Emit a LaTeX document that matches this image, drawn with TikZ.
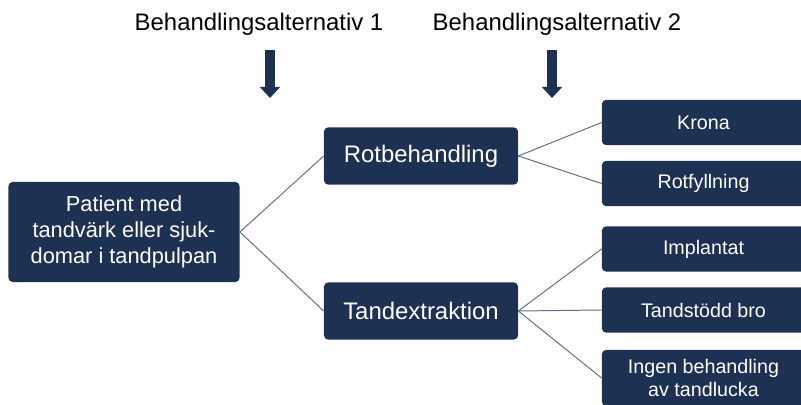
\documentclass[tikz,border=0pt]{standalone}
\usepackage{fontspec}
\setmainfont{Liberation Sans}
\usepackage{tikz}
\usetikzlibrary{positioning,arrows.meta}

\definecolor{boxblue}{RGB}{29,49,82}
\definecolor{linkgrey}{RGB}{96,110,136}

\begin{document}
\begin{tikzpicture}[x=0.025cm, y=-0.025cm,
    box/.style={fill=boxblue, text=white, rounded corners=3pt, align=center, inner sep=0pt},
    mainbox/.style={box, minimum width=4.85cm, minimum height=1.43cm, font=\fontsize{17}{20}\selectfont},
    leafbox/.style={box, minimum width=5.08cm, minimum height=1.13cm, font=\fontsize{14}{16.4}\selectfont},
    link/.style={draw=linkgrey, line width=0.7pt},
    bigarrow/.style={draw=boxblue, line width=0.25cm, -{Triangle[width=0.5cm, length=0.28cm]}}]
    \useasboundingbox (0,0) rectangle (801,405);
    \clip (0,0) rectangle (801,405);

    % titles and arrows
    \node (alt1) at (259,24) {\fontsize{17}{20}\selectfont Behandlingsalternativ 1};
    \node (alt2) at (557,24) {\fontsize{17}{20}\selectfont Behandlingsalternativ 2};
    \coordinate (a1top) at (270,50);
    \coordinate (a1tip) at (270,98);
    \coordinate (a2top) at (552,50);
    \coordinate (a2tip) at (552,98);
    \draw[bigarrow] (a1top) -- (a1tip);
    \draw[bigarrow] (a2top) -- (a2tip);

    % boxes
    \node[box, minimum width=5.78cm, minimum height=2.5cm, font=\fontsize{15.5}{18.5}\selectfont] (patient) at (124,232)
        {Patient med\\tandvärk eller sjuk-\\domar i tandpulpan};
    \node[mainbox] (rot) at (421,156) {Rotbehandling};
    \node[mainbox] (extr) at (421,311) {Tandextraktion};

    \node[leafbox] (krona) at (703.5,122.5) {Krona};
    \node[leafbox] (fyll) at (703.5,183.5) {Rotfyllning};
    \node[leafbox] (impl) at (703.5,249) {Implantat};
    \node[leafbox] (bro) at (703.5,310) {Tandstödd bro};
    \node[leafbox, minimum height=1.4cm] (ingen) at (703.5,378) {Ingen behandling\\av tandlucka};

    % links
    \draw[link] (patient.east) -- (rot.west);
    \draw[link] (patient.east) -- (extr.west);
    \draw[link] (rot.east) -- (krona.west);
    \draw[link] (rot.east) -- (fyll.west);
    \draw[link] (extr.east) -- (impl.west);
    \draw[link] (extr.east) -- (bro.west);
    \draw[link] (extr.east) -- (ingen.west);
\end{tikzpicture}
\end{document}
